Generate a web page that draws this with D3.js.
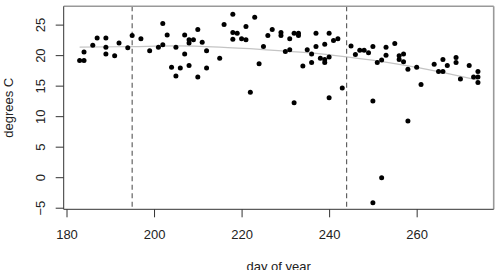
<!DOCTYPE html>
<html>
<head>
<meta charset="utf-8">
<script src="https://cdn.jsdelivr.net/npm/d3@7"></script>
<style>
  body { margin: 0; background: #fff; }
  svg { display: block; font-family: "Liberation Sans", Arial, sans-serif; }
</style>
</head>
<body>
<svg id="chart" width="500" height="270"></svg>
<script>
// day of year and temperature readings
var days = [183, 184, 184, 186, 187, 189, 189, 189, 191, 192, 194, 195, 197, 199, 201, 202, 202, 203,
    204, 205, 205, 206, 207, 207, 208, 208, 208, 209, 210, 210, 211, 212, 212, 215, 216,
    218, 218, 218, 219, 220, 221, 221, 222, 223, 224, 225, 226, 227,
    229, 229, 230, 231, 231, 232, 232, 233, 233, 234, 235, 236, 236, 237, 237, 238,
    239, 239, 239, 240, 240, 240, 241, 242, 243,
    245, 246, 247, 248, 249, 250, 250, 250, 251, 252, 252, 253, 253, 255, 256, 256,
    257, 257, 258, 258, 260, 261, 264, 265, 266, 266, 267, 269, 269, 270, 272, 273,
    274, 274, 274]
var temps = [19.1, 19.1, 20.5, 21.6, 22.8, 22.8, 21.3, 20.2, 19.9, 22.0, 21.2, 23.2, 22.7, 20.7, 21.3, 21.7, 25.2, 23.3,
    18.0, 21.3, 16.6, 17.9, 23.3, 20.2, 22.5, 22.0, 18.3, 22.5, 24.2, 16.4, 22.1, 20.7, 17.9, 19.5, 25.0,
    26.7, 23.7, 22.6, 23.6, 22.7, 24.7, 22.5, 13.9, 26.2, 18.6, 21.4, 23.2, 24.2,
    23.7, 23.2, 20.6, 22.7, 20.9, 23.6, 12.2, 23.6, 23.2, 18.2, 20.9, 20.2, 18.8, 23.6, 21.4, 19.5,
    21.8, 19.3, 18.8, 23.6, 19.7, 13.0, 22.4, 22.7, 14.6,
    21.5, 20.1, 20.8, 20.8, 20.4, 21.4, 12.5, -4.2, 18.8, 19.2, -0.1, 21.3, 20.0, 21.9, 19.9, 19.3,
    20.2, 18.9, 17.7, 9.2, 18.0, 15.2, 18.5, 17.3, 17.3, 19.3, 18.3, 19.6, 18.8, 16.1, 18.3, 16.4,
    17.3, 16.4, 15.5]

// smooth trend line
var fitDays = [183, 195, 205, 215, 225, 235, 244, 255, 265, 274]
var fitTemps = [21.3, 21.4, 21.5, 21.3, 20.9, 20.4, 19.7, 18.6, 17.3, 15.9]

var markDays = [195, 244]
var xTicks = [180, 200, 220, 240, 260]
var yTicks = [-5, 0, 5, 10, 15, 20, 25]

var plotL = 63.7, plotR = 493.7, plotT = 6.3, plotB = 209.3

var x = d3.scaleLinear().domain([179.36, 277.6]).range([plotL, plotR])
var y = d3.scaleLinear().domain([-5.26, 28.0]).range([plotB, plotT])

var svg = d3.select('#chart')

//TREND LINE
var line = d3.line()
    .x(function(d, i) { return x(fitDays[i]) })
    .y(function(d, i) { return y(fitTemps[i]) })
    .curve(d3.curveMonotoneX)

svg.append('path')
    .datum(fitDays)
    .attr('d', line)
    .attr('fill', 'none')
    .attr('stroke', '#c4c4c4')
    .attr('stroke-width', 1.2)

//DASHED MARKERS
svg.selectAll('.mark')
    .data(markDays)
    .join('line')
    .attr('class', 'mark')
    .attr('x1', function(d) { return x(d) })
    .attr('x2', function(d) { return x(d) })
    .attr('y1', plotT)
    .attr('y2', plotB)
    .attr('stroke', '#555')
    .attr('stroke-width', 1.1)
    .attr('stroke-dasharray', '5,3.5')

//POINTS
svg.selectAll('.pt')
    .data(days)
    .join('circle')
    .attr('class', 'pt')
    .attr('cx', function(d) { return x(d) })
    .attr('cy', function(d, i) { return y(temps[i]) })
    .attr('r', 2.5)
    .attr('fill', '#000')

//BOX
svg.append('line').attr('x1', plotL).attr('x2', plotR).attr('y1', plotT).attr('y2', plotT)
    .attr('stroke', '#999').attr('stroke-width', 1.6)
svg.append('line').attr('x1', plotR).attr('x2', plotR).attr('y1', plotT).attr('y2', plotB)
    .attr('stroke', '#999').attr('stroke-width', 1.6)
svg.append('line').attr('x1', plotL).attr('x2', plotL).attr('y1', plotT).attr('y2', plotB)
    .attr('stroke', '#333').attr('stroke-width', 1)
svg.append('line').attr('x1', plotL).attr('x2', plotR).attr('y1', plotB).attr('y2', plotB)
    .attr('stroke', '#333').attr('stroke-width', 1)

//AXES
var xAxis = svg.append('g')
    .attr('transform', 'translate(0,' + plotB + ')')
    .call(d3.axisBottom(x).tickValues(xTicks).tickSize(8).tickPadding(12.5))
xAxis.select('.domain').remove()

var yAxis = svg.append('g')
    .attr('transform', 'translate(' + plotL + ',0)')
    .call(d3.axisLeft(y).tickValues(yTicks).tickSize(8).tickFormat(d3.format('d')))
yAxis.select('.domain').remove()
yAxis.selectAll('text')
    .attr('x', null).attr('dy', null)
    .attr('text-anchor', 'middle')
    .attr('transform', 'translate(-19.2,0) rotate(-90)')

svg.selectAll('.tick line').attr('stroke', '#333')
svg.selectAll('.tick text')
    .attr('fill', '#222')
    .style('font-size', '13px')
    .style('font-family', '"Liberation Sans", Arial, sans-serif')

//LABELS
svg.append('text')
    .attr('x', (plotL + plotR) / 2)
    .attr('y', 271)
    .attr('text-anchor', 'middle')
    .attr('fill', '#222')
    .style('font-size', '13px')
    .text('day of year')

svg.append('text')
    .attr('transform', 'translate(12.5,' + (plotT + plotB) / 2 + ') rotate(-90)')
    .attr('text-anchor', 'middle')
    .attr('fill', '#222')
    .style('font-size', '13px')
    .text('degrees C')
</script>
</body>
</html>
